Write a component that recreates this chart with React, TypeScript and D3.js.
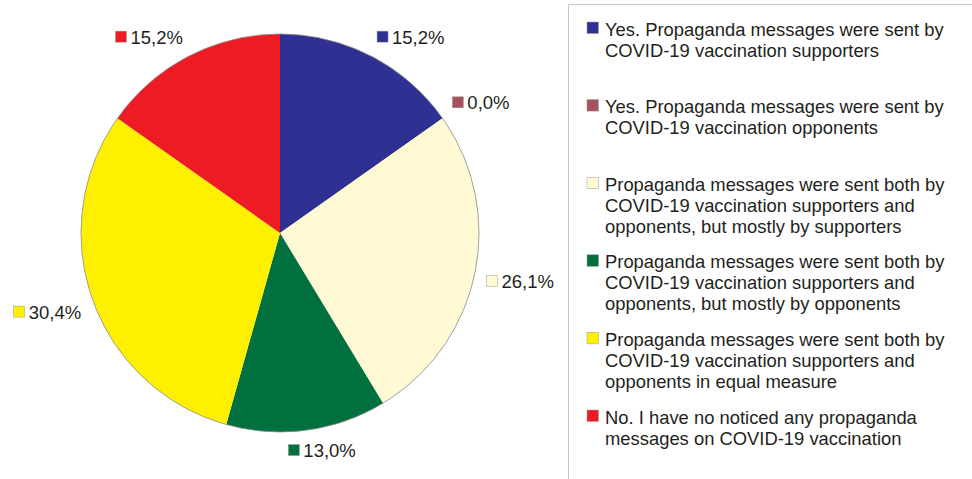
import React, { useEffect, useRef } from "react";
import * as d3 from "d3";

const categories = [
  "Yes. Propaganda messages were sent by COVID-19 vaccination supporters",
  "Yes. Propaganda messages were sent by COVID-19 vaccination opponents",
  "Propaganda messages were sent both by COVID-19 vaccination supporters and opponents, but mostly by supporters",
  "Propaganda messages were sent both by COVID-19 vaccination supporters and opponents, but mostly by opponents",
  "Propaganda messages were sent both by COVID-19 vaccination supporters and opponents in equal measure",
  "No. I have no noticed any propaganda messages on COVID-19 vaccination",
];
const legendLines = [
  ["Yes. Propaganda messages were sent by", "COVID-19 vaccination supporters"],
  ["Yes. Propaganda messages were sent by", "COVID-19 vaccination opponents"],
  ["Propaganda messages were sent both by", "COVID-19 vaccination supporters and", "opponents, but mostly by supporters"],
  ["Propaganda messages were sent both by", "COVID-19 vaccination supporters and", "opponents, but mostly by opponents"],
  ["Propaganda messages were sent both by", "COVID-19 vaccination supporters and", "opponents in equal measure"],
  ["No. I have no noticed any propaganda", "messages on COVID-19 vaccination"],
];
const values = [15.2, 0.0, 26.1, 13.0, 30.4, 15.2];
const labels = ["15,2%", "0,0%", "26,1%", "13,0%", "30,4%", "15,2%"];
const colors = ["#2E3192", "#A9505F", "#FFFAD3", "#00703F", "#FFF000", "#ED1C24"];

const W = 972;
const H = 479;
const FONT = "'Liberation Sans', Arial, Helvetica, sans-serif";

export default function App() {
  const ref = useRef<SVGSVGElement | null>(null);

  useEffect(() => {
    const svg = d3.select(ref.current);
    svg.selectAll("*").remove();

    const cx = 280, cy = 233, r = 199;
    const g = svg.append("g").attr("transform", `translate(${cx},${cy})`);
    const pie = d3.pie<number>().sort(null).value((d) => d);
    const arcs = pie(values);
    const arc = d3.arc<d3.PieArcDatum<number>>().innerRadius(0).outerRadius(r);

    g.selectAll("path.slice")
      .data(arcs)
      .join("path")
      .attr("class", "slice")
      .attr("d", arc as any)
      .attr("fill", (_d, i) => colors[i]);

    g.append("circle").attr("r", r).attr("fill", "none").attr("stroke", "#8a8a8a").attr("stroke-width", 0.8);

    // data labels
    const fs = 18.5;
    const lr = r + 12;
    const boxH = 17;
    arcs.forEach((a, i) => {
      const th = (a.startAngle + a.endAngle) / 2;
      const s = Math.sin(th), c = Math.cos(th);
      const px = lr * s, py = -lr * c;
      const lg = g.append("g");
      const t = lg
        .append("text")
        .attr("font-family", FONT)
        .attr("font-size", fs)
        .attr("fill", "#231f20")
        .text(labels[i]);
      const tw = (t.node() as SVGTextElement).getComputedTextLength();
      const bw = 11 + 4 + tw;
      const k = 3;
      const sx = Math.max(-1, Math.min(1, s * k));
      const sy = Math.max(-1, Math.min(1, -c * k));
      const ccx = px + (bw / 2) * sx;
      const ccy = py + (boxH / 2) * sy;
      const bx = ccx - bw / 2;
      const by = ccy - boxH / 2;
      lg.insert("rect", "text")
        .attr("x", bx)
        .attr("y", by + 2.5)
        .attr("width", 11)
        .attr("height", 11)
        .attr("fill", colors[i])
        .attr("stroke", "#9a9a9a")
        .attr("stroke-width", 0.5);
      t.attr("x", bx + 15).attr("y", by + boxH - 2);
    });

    // legend frame
    svg
      .append("path")
      .attr("d", `M${W + 2},4.5 H568.5 V${H + 2}`)
      .attr("fill", "none")
      .attr("stroke", "#c8c8c8")
      .attr("stroke-width", 1);

    const lg = svg.append("g");
    const step = 77.6;
    const lineH = 21;
    legendLines.forEach((lines, i) => {
      const base = 35.5 + i * step;
      lg.append("rect")
        .attr("x", 587)
        .attr("y", base - 13.5)
        .attr("width", 11.5)
        .attr("height", 11.5)
        .attr("fill", colors[i])
        .attr("stroke", "#9a9a9a")
        .attr("stroke-width", 0.5);
      const t = lg
        .append("text")
        .attr("font-family", FONT)
        .attr("font-size", 18.4)
        .attr("fill", "#231f20")
        .attr("aria-label", categories[i]);
      lines.forEach((ln, j) => {
        t.append("tspan").attr("x", 605).attr("y", base + j * lineH).text(ln);
      });
    });
  }, []);

  return (
    <svg
      ref={ref}
      width={W}
      height={H}
      style={{ position: "absolute", left: 0, top: 0, background: "#fff" }}
    />
  );
}
